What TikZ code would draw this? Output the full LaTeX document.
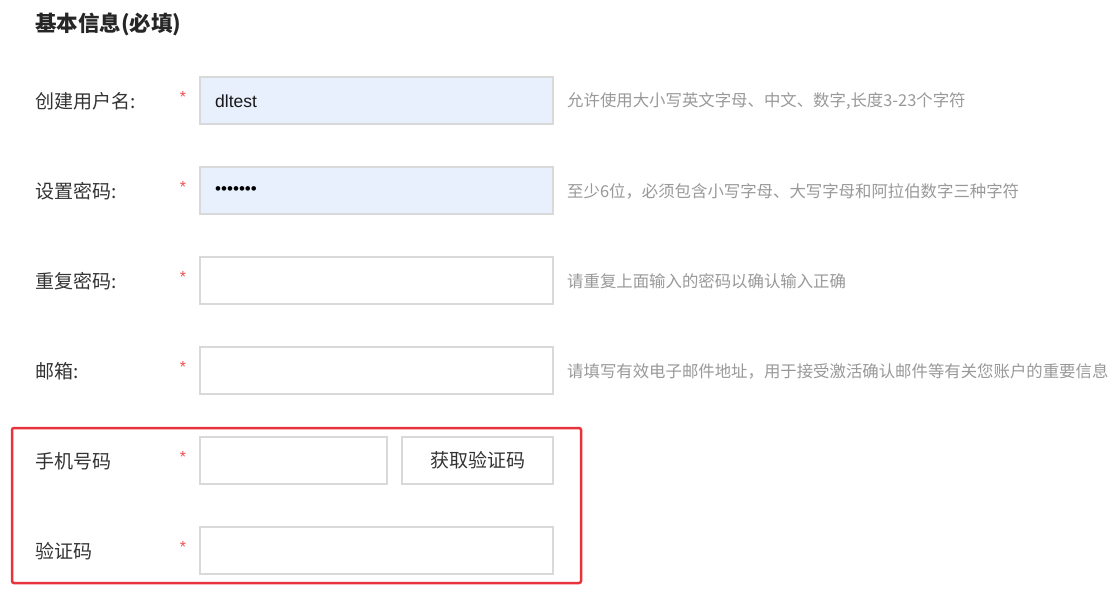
\documentclass[tikz,border=0pt]{standalone}
\usepackage{fontspec}
\setmainfont{Liberation Sans}
\newfontfamily\cjk{Noto Sans CJK SC}
\definecolor{labelGrey}{HTML}{333333}
\definecolor{hintGrey}{HTML}{999999}
\definecolor{boxLine}{HTML}{D9D9D9}
\definecolor{paleBlue}{HTML}{E8F0FE}
\definecolor{starRed}{HTML}{F05050}
\definecolor{frameRed}{HTML}{E8323C}
\tikzset{
  label/.style={anchor=west, inner sep=0pt, text=labelGrey, font=\cjk\fontsize{19}{20}\selectfont},
  hint/.style={anchor=west, inner sep=0pt, text=hintGrey, font=\cjk\fontsize{16.4}{18}\selectfont},
  star/.style={inner sep=0pt, text=starRed, font=\fontsize{16}{16}\selectfont},
  inbox/.style={draw=boxLine, line width=1.2pt, fill=white, minimum height=47pt, inner sep=0pt},
  filled/.style={inbox, fill=paleBlue}
}
\begin{document}
\begin{tikzpicture}[x=1pt,y=-1pt]
    \useasboundingbox[fill=white] (0,0) rectangle (1120,598);
    \node[anchor=west, inner sep=0pt, text=black!85, font=\cjk\bfseries\fontsize{21.5}{23}\selectfont] (title) at (35,24) {基本信息(必填)};
    % user name
    \node[label] (userLbl) at (35,101) {创建用户名:};
    \node[star] (userStar) at (183,97) {*};
    \node[filled, minimum width=353pt] (userBox) at (376.5,100.5) {};
    \node[anchor=west, inner sep=0pt, font=\fontsize{17.5}{18}\selectfont, text=black!90] (userVal) at (215,101) {dltest};
    \node[hint] (userHint) at (567,101) {允许使用大小写英文字母、中文、数字,长度3-23个字符};
    % password
    \node[label] (pwdLbl) at (35,191) {设置密码:};
    \node[star] (pwdStar) at (183,187) {*};
    \node[filled, minimum width=353pt] (pwdBox) at (376.5,190.5) {};
    \node[anchor=west, inner sep=0pt, font=\fontsize{17}{18}\selectfont, text=black] (pwdVal) at (215,191) {•••••••};
    \node[hint] (pwdHint) at (567,191) {至少6位，必须包含小写字母、大写字母和阿拉伯数字三种字符};
    % repeat
    \node[label] (repLbl) at (35,281) {重复密码:};
    \node[star] (repStar) at (183,277) {*};
    \node[inbox, minimum width=353pt] (repBox) at (376.5,280.5) {};
    \node[hint] (repHint) at (567,281) {请重复上面输入的密码以确认输入正确};
    % mail
    \node[label] (mailLbl) at (35,371) {邮箱:};
    \node[star] (mailStar) at (183,367) {*};
    \node[inbox, minimum width=353pt] (mailBox) at (376.5,370.5) {};
    \node[hint] (mailHint) at (567,371) {请填写有效电子邮件地址，用于接受激活确认邮件等有关您账户的重要信息};
    % phone
    \node[label] (phoneLbl) at (35,461) {手机号码};
    \node[star] (phoneStar) at (183,457) {*};
    \node[inbox, minimum width=187pt] (phoneBox) at (293.5,460.5) {};
    \node[inbox, minimum width=151pt, text=labelGrey, font=\cjk\fontsize{19}{20}\selectfont] (getCode) at (477.5,460.5) {获取验证码};
    % code
    \node[label] (codeLbl) at (35,551) {验证码};
    \node[star] (codeStar) at (183,547) {*};
    \node[inbox, minimum width=353pt] (codeBox) at (376.5,550.5) {};
    % frame
    \draw[frameRed, line width=2.5pt, rounded corners=2pt] (12,428) rectangle (581,583);
\end{tikzpicture}
\end{document}
